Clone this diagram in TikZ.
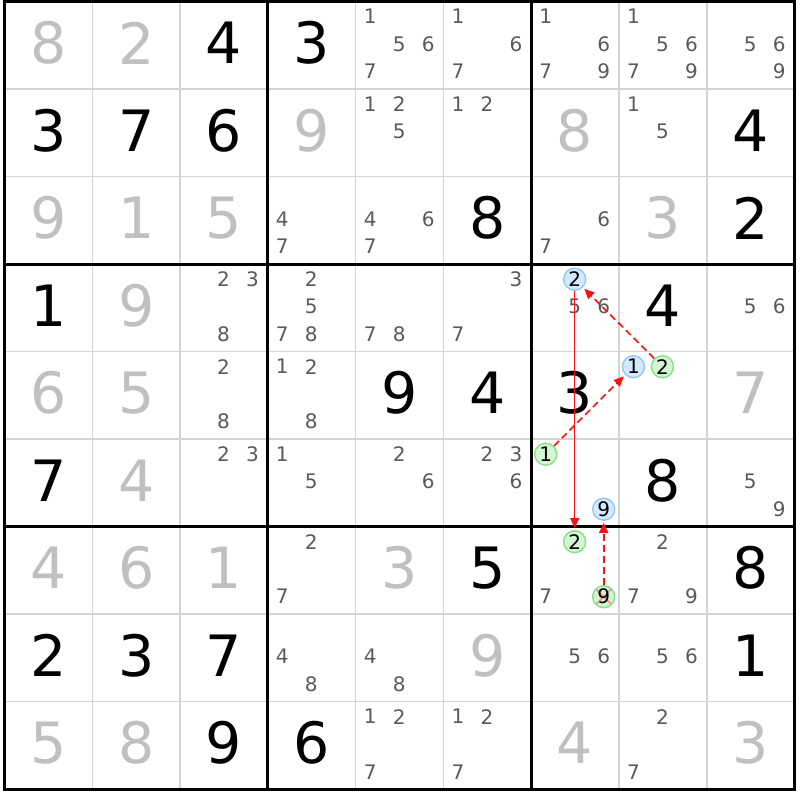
\documentclass[tikz,border=0pt]{standalone}
\usepackage{fontspec}
\setmainfont{DejaVu Sans}
\usetikzlibrary{arrows.meta}
\definecolor{solvedgray}{HTML}{C0C0C0}
\definecolor{candgray}{HTML}{5A5A5A}
\definecolor{thingrid}{HTML}{D4D4D4}
\definecolor{bluefill}{HTML}{D3E9FF}
\definecolor{bluedraw}{HTML}{92C8F5}
\definecolor{greenfill}{HTML}{D3F5D3}
\definecolor{greendraw}{HTML}{8ADE8A}
\definecolor{linkred}{HTML}{FF1010}
\definecolor{crossred}{HTML}{F29A9A}
\begin{document}
\begin{tikzpicture}[x=1pt,y=-1pt,
  declare function={gx(\c)=4.5+(\c-1)*87.78; gy(\r)=1.5+(\r-1)*87.5;},
  given/.style={inner sep=0pt,font=\fontsize{57}{57}\selectfont,text=black},
  solved/.style={given,text=solvedgray},
  cand/.style={inner sep=0pt,font=\fontsize{20}{20}\selectfont,text=candgray},
  hl/.style={circle,inner sep=0pt,minimum size=22pt,line width=1.4pt,font=\fontsize{20}{20}\selectfont,text=black},
  bluehl/.style={hl,fill=bluefill,draw=bluedraw},
  greenhl/.style={hl,fill=greenfill,draw=greendraw},
  crossed/.style={path picture={
    \draw[crossred,line width=1.8pt]
      ([shift={(-7.5,-7.5)}]path picture bounding box.center) -- ([shift={(7.5,7.5)}]path picture bounding box.center)
      ([shift={(-7.5,7.5)}]path picture bounding box.center) -- ([shift={(7.5,-7.5)}]path picture bounding box.center);}},
  thin/.style={draw=thingrid,line width=1.5pt},
  thick/.style={draw=black,line width=3pt},
  link/.style={draw=linkred,line width=1.6pt,-{Triangle[length=10pt,width=9pt]},shorten >=2pt},
  weak/.style={link,dash pattern=on 7pt off 4pt}
]
\useasboundingbox (0,0) rectangle (800,800);
\fill[white] (0,0) rectangle (800,800);
% thin grid
\foreach \i in {2,3,5,6,8,9} {
  \draw[thin] ({gx(\i)},{gy(1)}) -- ({gx(\i)},{gy(10)});
  \draw[thin] ({gx(1)},{gy(\i)}) -- ({gx(10)},{gy(\i)});
}
% thick grid
\foreach \i in {1,4,7,10} {
  \draw[thick] ({gx(\i)},{gy(1)-1.5}) -- ({gx(\i)},{gy(10)+1.5});
  \draw[thick] ({gx(1)-1.5},{gy(\i)}) -- ({gx(10)+1.5},{gy(\i)});
}
% givens
\foreach \r/\c/\d in {1/3/4,1/4/3,2/1/3,2/2/7,2/3/6,2/9/4,3/6/8,3/9/2,4/1/1,4/8/4,
  5/5/9,5/6/4,5/7/3,6/1/7,6/8/8,7/6/5,7/9/8,8/1/2,8/2/3,8/3/7,8/9/1,9/3/9,9/4/6}
  \node[given] (g-\r-\c) at ({gx(\c)+43.9},{gy(\r)+41.5}) {\d};
% solved
\foreach \r/\c/\d in {1/1/8,1/2/2,2/4/9,2/7/8,3/1/9,3/2/1,3/3/5,3/8/3,4/2/9,5/1/6,5/2/5,
  5/9/7,6/2/4,7/1/4,7/2/6,7/3/1,7/5/3,8/6/9,9/1/5,9/2/8,9/7/4,9/9/3}
  \node[solved] (s-\r-\c) at ({gx(\c)+43.9},{gy(\r)+41.5}) {\d};
% candidates
\foreach \r/\c/\L in {1/5/{1,5,6,7},1/6/{1,6,7},1/7/{1,6,7,9},1/8/{1,5,6,7,9},1/9/{5,6,9},
  2/5/{1,2,5},2/6/{1,2},2/8/{1,5},
  3/4/{4,7},3/5/{4,6,7},3/7/{6,7},
  4/3/{2,3,8},4/4/{2,5,7,8},4/5/{7,8},4/6/{3,7},4/7/{5,6},4/9/{5,6},
  5/3/{2,8},5/4/{1,2,8},
  6/3/{2,3},6/4/{1,5},6/5/{2,6},6/6/{2,3,6},6/9/{5,9},
  7/4/{2,7},7/7/{7},7/8/{2,7,9},
  8/4/{4,8},8/5/{4,8},8/7/{5,6},8/8/{5,6},
  9/5/{1,2,7},9/6/{1,2,7},9/8/{2,7}}
  \foreach \d in \L
    \node[cand] (c-\r-\c-\d) at ({gx(\c)+14.5+29*mod(\d-1,3)},{gy(\r)+15.2+27.5*floor((\d-1)/3)}) {\d};
% highlighted candidates
\node[bluehl]  (b42) at ({gx(7)+14.5+29},{gy(4)+15.2}) {2};
\node[bluehl]  (b51) at ({gx(8)+14.5},{gy(5)+15.2}) {1};
\node[greenhl] (g52) at ({gx(8)+14.5+29},{gy(5)+15.2}) {2};
\node[greenhl] (g61) at ({gx(7)+14.5},{gy(6)+15.2}) {1};
\node[bluehl]  (b69) at ({gx(7)+14.5+58},{gy(6)+15.2+55}) {9};
\node[greenhl] (g72) at ({gx(7)+14.5+29},{gy(7)+15.2}) {2};
\node[greenhl,crossed] (g79) at ({gx(7)+14.5+58},{gy(7)+15.2+55}) {9};
% links
\draw[weak] (g61) -- (b51);
\draw[weak] (g52) -- (b42);
\draw[link] (b42) -- (g72);
\draw[weak,line width=1.8pt] (g79.north) -- (b69.south);
\end{tikzpicture}
\end{document}
